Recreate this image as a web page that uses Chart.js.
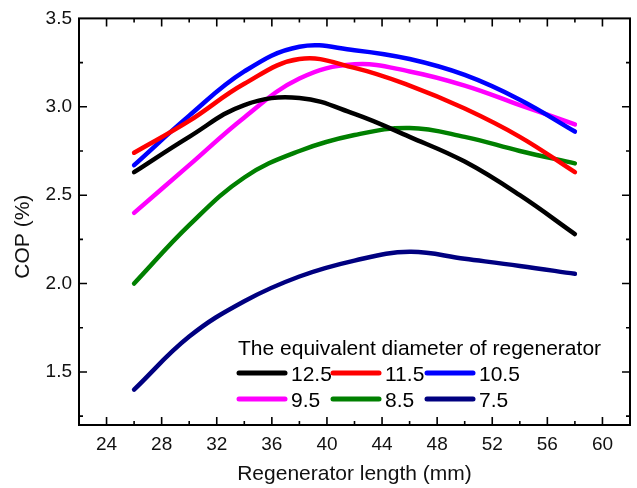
<!DOCTYPE html>
<html>
<head>
<meta charset="utf-8">
<title>COP vs regenerator length</title>
<script src="https://cdn.jsdelivr.net/npm/chart.js@4.4.1/dist/chart.umd.min.js"></script>
<style>
  html, body { margin: 0; padding: 0; background: #fff; }
  .chart-box { width: 637px; height: 488px; }
</style>
</head>
<body>
<div class="chart-box"><canvas id="cop-chart"></canvas></div>
<script>
// values

const lengths = [26, 30, 34, 38, 42, 46, 50, 54, 58];

const diameters = ["12.5", "11.5", "10.5", "9.5", "8.5", "7.5"];
const colors = ["#000000", "#ff0000", "#0000ff", "#ff00ff", "#008000", "#000080"];

const cop125 = [2.63, 2.83, 3.01, 3.05, 2.96, 2.83, 2.69, 2.50, 2.28];
const cop115 = [2.74, 2.92, 3.13, 3.27, 3.22, 3.12, 2.99, 2.83, 2.63];
const cop105 = [2.67, 2.95, 3.20, 3.34, 3.32, 3.27, 3.18, 3.04, 2.86];
const cop95  = [2.40, 2.67, 2.94, 3.16, 3.24, 3.20, 3.12, 3.01, 2.90];
const cop85  = [2.00, 2.33, 2.60, 2.75, 2.84, 2.88, 2.83, 2.75, 2.68];
const cop75  = [1.40, 1.70, 1.90, 2.04, 2.13, 2.18, 2.14, 2.10, 2.055];

const xTicks = [24, 28, 32, 36, 40, 44, 48, 52, 56, 60];
const yTicks = [1.5, 2.0, 2.5, 3.0, 3.5];

const series = [cop125, cop115, cop105, cop95, cop85, cop75];
const FONT = "'Liberation Sans', Arial, sans-serif";


// frame, inward ticks on all four sides, y title

const frame = {
    id: "frame",
    afterDatasetsDraw(chart) {
        const { ctx, chartArea: a, scales: { x, y } } = chart;
        ctx.save();
        ctx.strokeStyle = "#000";
        ctx.lineWidth = 2;
        ctx.strokeRect(a.left, a.top, a.right - a.left, a.bottom - a.top);

        ctx.lineWidth = 1.6;
        ctx.beginPath();
        const markX = (v, len) => {
            if (v <= x.min || v >= x.max) return;
            const px = x.getPixelForValue(v);
            ctx.moveTo(px, a.bottom); ctx.lineTo(px, a.bottom - len);
            ctx.moveTo(px, a.top); ctx.lineTo(px, a.top + len);
        };
        const markY = (v, len) => {
            if (v <= y.min || v >= y.max) return;
            const py = y.getPixelForValue(v);
            ctx.moveTo(a.left, py); ctx.lineTo(a.left + len, py);
            ctx.moveTo(a.right, py); ctx.lineTo(a.right - len, py);
        };
        xTicks.forEach(v => { markX(v, 8); markX(v + 2, 4); });
        yTicks.forEach(v => { markY(v, 8); markY(v - 0.25, 4); });
        ctx.stroke();

        // y title sits a bit below the middle of the axis in the original
        ctx.translate(23, (a.top + a.bottom) / 2 + 15);
        ctx.rotate(-Math.PI / 2);
        ctx.font = "21px " + FONT;
        ctx.fillStyle = "#111";
        ctx.textAlign = "center";
        ctx.textBaseline = "middle";
        ctx.fillText("COP (%)", 0, 0);
        ctx.restore();
    }
};


// legend box inside the plot: title line, then 3 columns

const legendBox = {
    id: "legendBox",
    afterDraw(chart) {
        const { ctx, chartArea: a } = chart;
        const left = a.left + 158;
        const titleY = a.bottom - 70;
        ctx.save();
        ctx.font = "21px " + FONT;
        ctx.fillStyle = "#000";
        ctx.textBaseline = "alphabetic";
        ctx.textAlign = "left";
        ctx.fillText("The equivalent diameter of regenerator", left + 1, titleY);

        chart.data.datasets.forEach((ds, i) => {
            const col = i % 3;
            const row = Math.floor(i / 3);
            const sx = left + col * 94;
            const lineY = titleY + 18 + row * 26;
            ctx.strokeStyle = ds.borderColor;
            ctx.lineWidth = 5;
            ctx.lineCap = "round";
            ctx.beginPath();
            ctx.moveTo(sx + 2, lineY);
            ctx.lineTo(sx + 48, lineY);
            ctx.stroke();
            ctx.fillText(ds.label, sx + 54, lineY + 8);
        });
        ctx.restore();
    }
};


new Chart(document.getElementById("cop-chart"), {
    type: "line",
    data: {
        datasets: series.map((vals, i) => ({
            label: diameters[i],
            data: lengths.map((l, j) => ({ x: l, y: vals[j] })),
            borderColor: colors[i],
            borderWidth: 4.5,
            borderCapStyle: "round",
            pointRadius: 0,
            tension: 0.4,
            fill: false,
        })),
    },
    options: {
        responsive: true,
        maintainAspectRatio: false,
        animation: false,
        events: [],
        layout: {
            padding: { top: 14, right: 7, left: 0, bottom: 0 }
        },
        scales: {
            x: {
                type: "linear",
                min: 22,
                max: 62,
                afterBuildTicks: s => { s.ticks = xTicks.map(v => ({ value: v })); },
                afterFit: s => { s.height = 63; },
                grid: { display: false, drawTicks: false },
                border: { display: false },
                ticks: {
                    padding: 8,
                    color: "#111",
                    font: { family: FONT, size: 19 },
                    maxRotation: 0,
                    autoSkip: false,
                },
                title: {
                    display: true,
                    text: "Regenerator length (mm)",
                    color: "#111",
                    font: { family: FONT, size: 21 },
                    padding: { top: 0, bottom: 1 },
                },
            },
            y: {
                type: "linear",
                min: 1.2,
                max: 3.5,
                afterBuildTicks: s => { s.ticks = yTicks.map(v => ({ value: v })); },
                afterFit: s => { s.width = 79; },
                grid: { display: false, drawTicks: false },
                border: { display: false },
                ticks: {
                    padding: 7,
                    color: "#111",
                    font: { family: FONT, size: 19 },
                    callback: v => v.toFixed(1),
                },
            },
        },
        plugins: {
            legend: { display: false },
            tooltip: { enabled: false },
        },
    },
    plugins: [frame, legendBox],
});
</script>
</body>
</html>
